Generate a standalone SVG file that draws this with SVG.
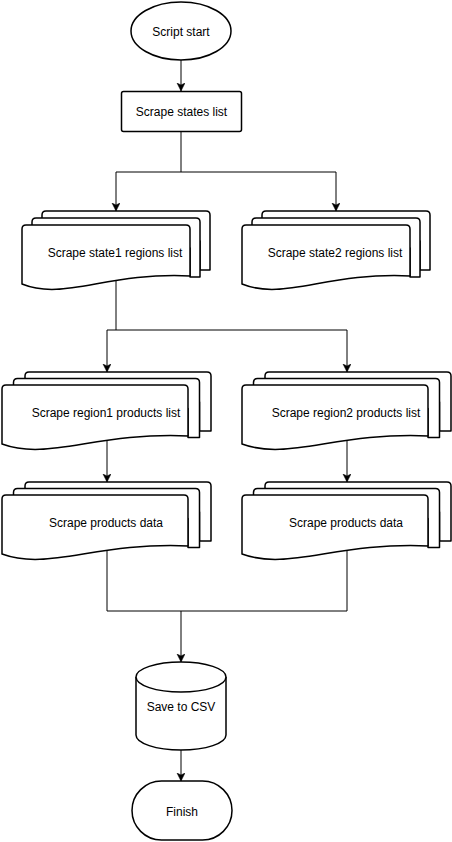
<svg xmlns="http://www.w3.org/2000/svg" width="452" height="842" viewBox="0 0 452 842">
<style>
.s{fill:#fff;stroke:#000;stroke-width:1.5;stroke-linejoin:round}
.c{fill:none;stroke:#000;stroke-width:1}
.t{font-family:"Liberation Sans",Arial,Helvetica,sans-serif;font-size:12px;fill:#000;text-anchor:middle}
</style>
<defs>
<marker id="arr" markerWidth="10" markerHeight="10" refX="8" refY="4" orient="auto" markerUnits="userSpaceOnUse">
<path d="M0,0 L8,4 L0,8 L2,4 Z" fill="#000" stroke="#000" stroke-width="0.5"/>
</marker>
</defs>
<rect width="452" height="842" fill="#fff"/>
<g id="connectors">
<path class="c" d="M181,60 V91" marker-end="url(#arr)"/>
<path class="c" d="M181,132 V172 H116 V211" marker-end="url(#arr)"/>
<path class="c" d="M181,172 H336 V211" marker-end="url(#arr)"/>
<path class="c" d="M116,281 V330 H107 V372" marker-end="url(#arr)"/>
<path class="c" d="M116,330 H347 V372" marker-end="url(#arr)"/>
<path class="c" d="M107,440 V482" marker-end="url(#arr)"/>
<path class="c" d="M347,440 V482" marker-end="url(#arr)"/>
<path class="c" d="M107,550 V611 H181 V662" marker-end="url(#arr)"/>
<path class="c" d="M347,550 V611 H181"/>
<path class="c" d="M181,750 V781" marker-end="url(#arr)"/>
</g>
<g id="start">
<ellipse class="s" cx="181" cy="31" rx="50" ry="29"/>
<text class="t" x="181" y="35.5">Script start</text>
</g>
<g id="states">
<rect class="s" x="121.5" y="91.5" width="120" height="40" rx="2"/>
<text class="t" x="181.5" y="116">Scrape states list</text>
</g>
<g id="state1">
<path class="s" d="M42,215 Q42,211 46,211 L206,211 Q210,211 210,215 L210,270 L200,270 L200,241 L42,241 Z"/>
<path class="s" d="M32,222 Q32,218 36,218 L196,218 Q200,218 200,222 L200,277 L190,277 L190,248 L32,248 Z"/>
<path class="s" d="M22,229 Q22,225 26,225 L186,225 Q190,225 190,229 L190,276 C106,272 64,301 22,284 Z"/>
<text class="t" x="115" y="256.5">Scrape state1 regions list</text>
</g>
<g id="state2">
<path class="s" d="M262,215 Q262,211 266,211 L426,211 Q430,211 430,215 L430,270 L420,270 L420,241 L262,241 Z"/>
<path class="s" d="M252,222 Q252,218 256,218 L416,218 Q420,218 420,222 L420,277 L410,277 L410,248 L252,248 Z"/>
<path class="s" d="M242,229 Q242,225 246,225 L406,225 Q410,225 410,229 L410,276 C326,272 284,301 242,284 Z"/>
<text class="t" x="335" y="256.5">Scrape state2 regions list</text>
</g>
<g id="region1">
<path class="s" d="M25,376 Q25,372 29,372 L207,372 Q211,372 211,376 L211,431 L199.5,431 L199.5,402 L25,402 Z"/>
<path class="s" d="M13.5,382.5 Q13.5,378.5 17.5,378.5 L195.5,378.5 Q199.5,378.5 199.5,382.5 L199.5,437.5 L188,437.5 L188,408.5 L13.5,408.5 Z"/>
<path class="s" d="M2,389 Q2,385 6,385 L184,385 Q188,385 188,389 L188,436 C95,432 48.5,461 2,444 Z"/>
<text class="t" x="106" y="416.5">Scrape region1 products list</text>
</g>
<g id="region2">
<path class="s" d="M265,376 Q265,372 269,372 L447,372 Q451,372 451,376 L451,431 L439.5,431 L439.5,402 L265,402 Z"/>
<path class="s" d="M253.5,382.5 Q253.5,378.5 257.5,378.5 L435.5,378.5 Q439.5,378.5 439.5,382.5 L439.5,437.5 L428,437.5 L428,408.5 L253.5,408.5 Z"/>
<path class="s" d="M242,389 Q242,385 246,385 L424,385 Q428,385 428,389 L428,436 C335,432 288.5,461 242,444 Z"/>
<text class="t" x="346" y="416.5">Scrape region2 products list</text>
</g>
<g id="products1">
<path class="s" d="M25,486 Q25,482 29,482 L207,482 Q211,482 211,486 L211,541 L199.5,541 L199.5,512 L25,512 Z"/>
<path class="s" d="M13.5,492.5 Q13.5,488.5 17.5,488.5 L195.5,488.5 Q199.5,488.5 199.5,492.5 L199.5,547.5 L188,547.5 L188,518.5 L13.5,518.5 Z"/>
<path class="s" d="M2,499 Q2,495 6,495 L184,495 Q188,495 188,499 L188,546 C95,542 48.5,571 2,554 Z"/>
<text class="t" x="106" y="526.5">Scrape products data</text>
</g>
<g id="products2">
<path class="s" d="M265,486 Q265,482 269,482 L447,482 Q451,482 451,486 L451,541 L439.5,541 L439.5,512 L265,512 Z"/>
<path class="s" d="M253.5,492.5 Q253.5,488.5 257.5,488.5 L435.5,488.5 Q439.5,488.5 439.5,492.5 L439.5,547.5 L428,547.5 L428,518.5 L253.5,518.5 Z"/>
<path class="s" d="M242,499 Q242,495 246,495 L424,495 Q428,495 428,499 L428,546 C335,542 288.5,571 242,554 Z"/>
<text class="t" x="346" y="526.5">Scrape products data</text>
</g>
<g id="csv">
<path class="s" d="M136,677 A45,15 0 0 1 226,677 L226,735 A45,15 0 0 1 136,735 Z"/>
<path class="s" fill="none" d="M136,677 A45,15 0 0 0 226,677"/>
<text class="t" x="181" y="711">Save to CSV</text>
</g>
<g id="finish">
<rect class="s" x="132" y="781" width="100" height="59" rx="29.5"/>
<text class="t" x="182" y="815.5">Finish</text>
</g>
</svg>
